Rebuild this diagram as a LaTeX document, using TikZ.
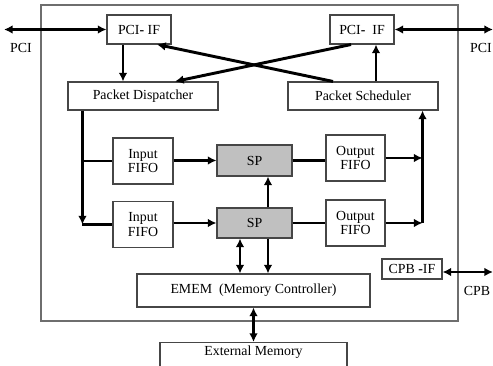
\documentclass[tikz,border=0pt]{standalone}
\usepackage{fontspec}
\setmainfont{Liberation Serif}
\usetikzlibrary{
  arrows.meta,
  positioning,
  calc
}
\definecolor{boxborder}{RGB}{70,70,70}
\definecolor{chipborder}{RGB}{110,110,110}
\definecolor{spbg}{RGB}{192,192,192}
\tikzset{
  blockbox/.style={
    draw=boxborder, fill=white, line width=0.8pt,
    inner sep=1pt, align=center,
    font=\fontsize{10.4}{11}\selectfont
  },
  spbox/.style={
    blockbox, fill=spbg
  },
  busline/.style={
    draw=black, line width=2.2pt
  },
  busarrow/.style={
    -{Latex[length=6.5pt,width=6.5pt]},
    draw=black, line width=2.2pt
  },
  bidiarrow/.style={
    {Latex[length=6.5pt,width=6.5pt]}-{Latex[length=6.5pt,width=6.5pt]},
    draw=black, line width=2.2pt
  },
  portlabel/.style={
    font=\fontsize{10.4}{11}\selectfont, inner sep=0pt
  },
}
\begin{document}
\begin{tikzpicture}[x=0.75pt,y=-0.75pt]

  \useasboundingbox (0,0) rectangle (493,366);

  %% Chip outline
  \draw[draw=chipborder, line width=0.8pt] (41,5) rectangle (458,321);

  %% Interfaces
  \node[blockbox, minimum width=48pt, minimum height=21.75pt] (pcil)
    at (139,29.5) {PCI\textbf{-} IF};
  \node[blockbox, minimum width=48pt, minimum height=21.75pt] (pcir)
    at (362,29.5) {PCI\textbf{-}\ \ IF};
  \node[blockbox, minimum width=45pt, minimum height=15pt] (cpb)
    at (412,269) {CPB \textbf{-}IF};

  %% Dispatcher / scheduler
  \node[blockbox, minimum width=112.5pt, minimum height=21pt] (disp)
    at (143,96) {Packet Dispatcher};
  \node[blockbox, minimum width=112.5pt, minimum height=21pt] (sched)
    at (363,96) {Packet Scheduler};

  %% FIFOs and processors
  \node[blockbox, minimum width=45pt, minimum height=34.5pt] (ina)
    at (143,161) {Input\\FIFO};
  \node[blockbox, minimum width=45pt, minimum height=34pt] (inb)
    at (143,224.5) {Input\\FIFO};
  \node[spbox, minimum width=56.25pt, minimum height=23.25pt] (spa)
    at (254.5,160.5) {SP};
  \node[spbox, minimum width=56.25pt, minimum height=22.5pt] (spb)
    at (254.5,223) {SP};
  \node[blockbox, minimum width=44.25pt, minimum height=34.5pt] (outa)
    at (355.5,158) {Output\\FIFO};
  \node[blockbox, minimum width=44.25pt, minimum height=34.5pt] (outb)
    at (355.5,223) {Output\\FIFO};

  %% Memory
  \node[blockbox, minimum width=174.75pt, minimum height=24.75pt] (emem)
    at (253.5,290.5) {EMEM\ \ (Memory Controller)};
  \node[blockbox, anchor=north, minimum width=140.25pt, inner ysep=2.5pt,
        text depth=20pt] (ext)
    at (253.5,342) {External Memory};

  %% Port labels
  \coordinate (pcilend) at (4,29.5);
  \coordinate (pcirend) at (493,29.5);
  \coordinate (cpbend) at (493,272);
  \node[portlabel] (pcillab) at (21,48) {PCI};
  \node[portlabel] (pcirlab) at (481,48) {PCI};
  \node[portlabel] (cpblab) at (477,291) {CPB};

  %% Bus corners
  \coordinate (busl) at ($(disp.south west)+(15,0)$);
  \coordinate (busr) at ($(sched.south east)+(-16,0)$);

  %% External ports
  \draw[bidiarrow] (pcilend) -- (pcil.west);
  \draw[bidiarrow] (pcir.east) -- (pcirend);
  \draw[bidiarrow] ($(cpb.east)+(0,3)$) -- (cpbend);

  %% PCI-IF <-> dispatcher / scheduler
  \draw[busarrow] ($(pcil.south)+(-16,0)$) -- ($(pcil.south |- disp.north)+(-16,0)$);
  \draw[busarrow] ($(sched.north)+(13,0)$) -- ($(sched.north |- pcir.south)+(13,0)$);
  \draw[busarrow] ($(sched.north)+(-30,0)$) -- ($(pcil.south)+(18,0)$);
  \draw[busarrow] ($(pcir.south)+(-11,0)$) -- ($(disp.north)+(32,0)$);

  %% Dispatcher -> input FIFOs
  \draw[busarrow] (busl) -- (busl |- inb.west);
  \draw[busline] (busl |- inb.west) -- (inb.west);
  \draw[busline] (busl |- ina.west) -- (ina.west);

  %% Input FIFOs -> SP -> output FIFOs
  \draw[busarrow] (ina.east |- spa.west) -- (spa.west);
  \draw[busarrow] (inb.east |- spb.west) -- (spb.west);
  \draw[busline] (spa.east) -- (spa.east -| outa.west);
  \draw[busline] (spb.east) -- (spb.east -| outb.west);
  \draw[busarrow] ($(spb.north)+(13.5,0)$) -- ($(spa.south)+(13.5,0)$);

  %% Output FIFOs -> scheduler
  \draw[busarrow] (outa.east) -- (outa.east -| busr);
  \draw[busarrow] (outb.east) -- (outb.east -| busr);
  \draw[busarrow] (busr |- outb.east) -- (busr);

  %% SP <-> memory
  \draw[bidiarrow] ($(spb.south)+(-14.5,0)$) -- ($(spb.south |- emem.north)+(-14.5,0)$);
  \draw[busarrow] ($(spb.south)+(13.5,0)$) -- ($(spb.south |- emem.north)+(13.5,0)$);
  \draw[bidiarrow] (emem.south) -- (ext.north);

\end{tikzpicture}
\end{document}
